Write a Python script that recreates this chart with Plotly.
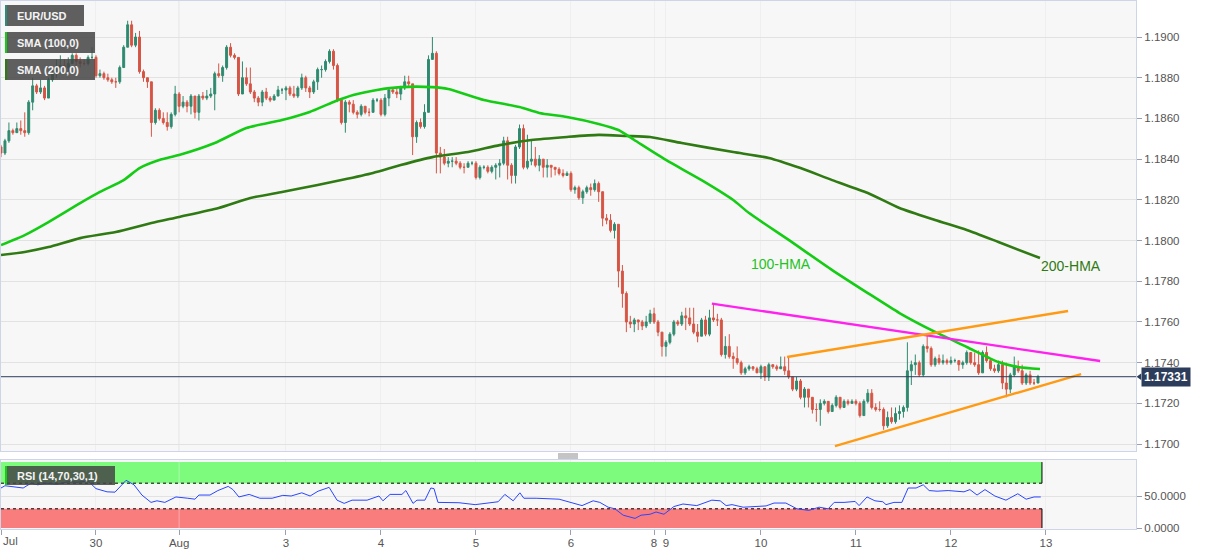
import numpy as np
import pandas as pd
import plotly.graph_objects as go

# ---------------- data (EUR/USD hourly) ----------------
sessions = [("2021-07-29 00:00", "2021-07-30 20:00"),
            ("2021-08-01 21:00", "2021-08-06 20:00"),
            ("2021-08-08 21:00", "2021-08-12 22:00")]

first_open = 1.1846
close = [
    1.1843, 1.1849, 1.1854, 1.1853, 1.1855, 1.1854, 1.1853, 1.1868, 1.1876, 1.1873,
    1.1875, 1.1870, 1.1879, 1.1882, 1.1884, 1.1886, 1.1885, 1.1887, 1.1891, 1.1888,
    1.1887, 1.1887, 1.1890, 1.1890, 1.1881, 1.1882, 1.1880, 1.1879, 1.1878, 1.1878,
    1.1885, 1.1895, 1.1906, 1.1896, 1.1900, 1.1883, 1.1880, 1.1878, 1.1858, 1.1864,
    1.1860, 1.1858, 1.1856, 1.1862, 1.1872,
    1.1866, 1.1868, 1.1866, 1.1871, 1.1863, 1.1871, 1.1870, 1.1871, 1.1872, 1.1882,
    1.1881, 1.1885, 1.1895, 1.1891, 1.1890, 1.1872, 1.1880, 1.1877, 1.1873, 1.1870,
    1.1868, 1.1873, 1.1870, 1.1869, 1.1871, 1.1874, 1.1874, 1.1875, 1.1872, 1.1871,
    1.1875, 1.1880, 1.1875, 1.1873, 1.1878, 1.1884, 1.1884, 1.1888, 1.1893, 1.1886,
    1.1869, 1.1858, 1.1868, 1.1867, 1.1863, 1.1862, 1.1866, 1.1863, 1.1863, 1.1869,
    1.1869, 1.1862, 1.1870, 1.1874, 1.1873, 1.1872, 1.1875, 1.1878, 1.1877, 1.1851,
    1.1858, 1.1856, 1.1863, 1.1889, 1.1892, 1.1843, 1.1841,
    1.1838, 1.1839, 1.1839, 1.1838, 1.1836, 1.1836, 1.1838, 1.1838, 1.1831, 1.1836,
    1.1836, 1.1834, 1.1836, 1.1837, 1.1838, 1.1849, 1.1837, 1.1832, 1.1846, 1.1855,
    1.1836, 1.1839, 1.1840, 1.1837, 1.1840, 1.1836, 1.1837, 1.1836, 1.1835, 1.1833,
    1.1832, 1.1833, 1.1825, 1.1826, 1.1821, 1.1824, 1.1826, 1.1825, 1.1828, 1.1824,
    1.1811, 1.1810, 1.1805, 1.1808, 1.1785, 1.1774, 1.1760, 1.1759, 1.1761, 1.1760,
    1.1758, 1.1760, 1.1764, 1.1760, 1.1755, 1.1748, 1.1750, 1.1754, 1.1760, 1.1759,
    1.1763, 1.1762, 1.1759, 1.1755, 1.1753, 1.1761, 1.1754, 1.1762, 1.1761, 1.1761,
    1.1744, 1.1748, 1.1743, 1.1742, 1.1740, 1.1735, 1.1737, 1.1738, 1.1737, 1.1735,
    1.1738, 1.1733, 1.1739, 1.1738, 1.1737, 1.1738, 1.1736, 1.1733, 1.1727, 1.1731,
    1.1723, 1.1727, 1.1723, 1.1717, 1.1717, 1.1720, 1.1721, 1.1716, 1.1719, 1.1723,
    1.1718, 1.1721, 1.1720, 1.1721, 1.1720, 1.1714, 1.1721, 1.1725, 1.1718, 1.1717,
    1.1717, 1.1709, 1.1713, 1.1711, 1.1715, 1.1716, 1.1718, 1.1736, 1.1739, 1.1740,
    1.1734, 1.1748, 1.1747, 1.1739, 1.1742, 1.1740, 1.1741, 1.1740, 1.1741, 1.1741,
    1.1739, 1.1740, 1.1745, 1.1740, 1.1739, 1.1735, 1.1745, 1.1741, 1.1737, 1.1736,
    1.1739, 1.1730, 1.1727, 1.1734, 1.1738, 1.1736, 1.1730, 1.1734, 1.1730, 1.1730, 1.17331]

high = [
    1.1847, 1.1850, 1.1858, 1.1855, 1.1858, 1.1859, 1.1863, 1.1869, 1.1880, 1.1877,
    1.1879, 1.1876, 1.1880, 1.1884, 1.1889, 1.1891, 1.1889, 1.1890, 1.1892, 1.1892,
    1.1890, 1.1889, 1.1891, 1.1895, 1.1891, 1.1884, 1.1883, 1.1882, 1.1880, 1.1880,
    1.1886, 1.1896, 1.1908, 1.1908, 1.1902, 1.1903, 1.1884, 1.1880, 1.1878, 1.1865,
    1.1865, 1.1863, 1.1863, 1.1863, 1.1876,
    1.1873, 1.1871, 1.1869, 1.1872, 1.1870, 1.1872, 1.1873, 1.1874, 1.1875, 1.1883,
    1.1887, 1.1886, 1.1896, 1.1897, 1.1892, 1.1890, 1.1888, 1.1885, 1.1885, 1.1874,
    1.1871, 1.1874, 1.1875, 1.1871, 1.1872, 1.1876, 1.1875, 1.1876, 1.1876, 1.1876,
    1.1876, 1.1882, 1.1881, 1.1876, 1.1879, 1.1885, 1.1886, 1.1889, 1.1894, 1.1894,
    1.1887, 1.1870, 1.1869, 1.1869, 1.1869, 1.1864, 1.1867, 1.1866, 1.1865, 1.1870,
    1.1870, 1.1870, 1.1872, 1.1875, 1.1875, 1.1875, 1.1876, 1.1881, 1.1881, 1.1877,
    1.1859, 1.1860, 1.1867, 1.1891, 1.1900, 1.1893, 1.1846,
    1.1845, 1.1841, 1.1841, 1.1841, 1.1839, 1.1838, 1.1839, 1.1839, 1.1839, 1.1837,
    1.1837, 1.1837, 1.1837, 1.1838, 1.1840, 1.1851, 1.1851, 1.1838, 1.1847, 1.1857,
    1.1857, 1.1852, 1.1849, 1.1846, 1.1842, 1.1840, 1.1840, 1.1837, 1.1836, 1.1836,
    1.1835, 1.1834, 1.1834, 1.1827, 1.1827, 1.1825, 1.1827, 1.1828, 1.1830, 1.1829,
    1.1824, 1.1813, 1.1813, 1.1809, 1.1808, 1.1788, 1.1775, 1.1763, 1.1762, 1.1761,
    1.1761, 1.1763, 1.1766, 1.1767, 1.1761, 1.1755, 1.1751, 1.1755, 1.1761, 1.1761,
    1.1765, 1.1767, 1.1767, 1.1767, 1.1759, 1.1762, 1.1763, 1.1766, 1.1769, 1.1764,
    1.1762, 1.1753, 1.1754, 1.1745, 1.1748, 1.1741, 1.1738, 1.1739, 1.1738, 1.1738,
    1.1739, 1.1738, 1.1740, 1.1739, 1.1739, 1.1743, 1.1743, 1.1743, 1.1733, 1.1733,
    1.1732, 1.1728, 1.1727, 1.1723, 1.1720, 1.1722, 1.1722, 1.1721, 1.1720, 1.1724,
    1.1723, 1.1722, 1.1722, 1.1722, 1.1722, 1.1721, 1.1722, 1.1727, 1.1727, 1.1720,
    1.1721, 1.1718, 1.1716, 1.1718, 1.1718, 1.1719, 1.1719, 1.1750, 1.1741, 1.1744,
    1.1741, 1.1749, 1.1754, 1.1748, 1.1743, 1.1744, 1.1744, 1.1742, 1.1743, 1.1742,
    1.1741, 1.1741, 1.1746, 1.1745, 1.1745, 1.1746, 1.1746, 1.1748, 1.1742, 1.1739,
    1.1741, 1.1741, 1.1740, 1.1735, 1.1743, 1.1741, 1.1739, 1.1735, 1.1736, 1.1732, 1.1734]

low = [
    1.1841, 1.1842, 1.1848, 1.1852, 1.1853, 1.1852, 1.1851, 1.1852, 1.1864, 1.1872,
    1.1872, 1.1869, 1.1870, 1.1878, 1.1880, 1.1882, 1.1882, 1.1883, 1.1887, 1.1886,
    1.1885, 1.1886, 1.1886, 1.1889, 1.1880, 1.1880, 1.1879, 1.1878, 1.1877, 1.1875,
    1.1877, 1.1885, 1.1895, 1.1895, 1.1895, 1.1882, 1.1878, 1.1875, 1.1851, 1.1857,
    1.1859, 1.1857, 1.1854, 1.1855, 1.1861,
    1.1863, 1.1865, 1.1863, 1.1862, 1.1860, 1.1859, 1.1869, 1.1869, 1.1870, 1.1864,
    1.1880, 1.1878, 1.1884, 1.1890, 1.1889, 1.1871, 1.1872, 1.1876, 1.1872, 1.1868,
    1.1866, 1.1866, 1.1869, 1.1868, 1.1869, 1.1871, 1.1872, 1.1869, 1.1871, 1.1870,
    1.1870, 1.1874, 1.1873, 1.1870, 1.1872, 1.1874, 1.1880, 1.1883, 1.1887, 1.1884,
    1.1868, 1.1857, 1.1853, 1.1863, 1.1862, 1.1860, 1.1861, 1.1862, 1.1861, 1.1863,
    1.1868, 1.1861, 1.1861, 1.1866, 1.1872, 1.1870, 1.1869, 1.1874, 1.1875, 1.1842,
    1.1848, 1.1855, 1.1855, 1.1863, 1.1889, 1.1833, 1.1833,
    1.1837, 1.1836, 1.1836, 1.1837, 1.1835, 1.1833, 1.1836, 1.1837, 1.1830, 1.1830,
    1.1835, 1.1833, 1.1833, 1.1830, 1.1831, 1.1837, 1.1830, 1.1828, 1.1828, 1.1845,
    1.1835, 1.1835, 1.1837, 1.1836, 1.1834, 1.1831, 1.1831, 1.1831, 1.1832, 1.1832,
    1.1831, 1.1832, 1.1824, 1.1823, 1.1820, 1.1818, 1.1823, 1.1822, 1.1824, 1.1819,
    1.1807, 1.1808, 1.1804, 1.1801, 1.1777, 1.1767, 1.1755, 1.1757, 1.1755, 1.1756,
    1.1756, 1.1757, 1.1759, 1.1759, 1.1753, 1.1743, 1.1743, 1.1749, 1.1753, 1.1758,
    1.1758, 1.1756, 1.1758, 1.1754, 1.1750, 1.1753, 1.1753, 1.1753, 1.1760, 1.1758,
    1.1743, 1.1742, 1.1742, 1.1737, 1.1739, 1.1734, 1.1734, 1.1736, 1.1736, 1.1735,
    1.1732, 1.1731, 1.1731, 1.1737, 1.1736, 1.1737, 1.1734, 1.1732, 1.1726, 1.1726,
    1.1722, 1.1718, 1.1718, 1.1715, 1.1711, 1.1709, 1.1719, 1.1715, 1.1716, 1.1718,
    1.1717, 1.1718, 1.1719, 1.1720, 1.1719, 1.1713, 1.1714, 1.1720, 1.1717, 1.1716,
    1.1716, 1.1707, 1.1708, 1.1710, 1.1710, 1.1712, 1.1713, 1.1716, 1.1729, 1.1734,
    1.1733, 1.1733, 1.1745, 1.1738, 1.1738, 1.1739, 1.1739, 1.1739, 1.1739, 1.1740,
    1.1736, 1.1737, 1.1739, 1.1739, 1.1738, 1.1734, 1.1735, 1.1740, 1.1736, 1.1735,
    1.1735, 1.1727, 1.1723, 1.1725, 1.1733, 1.1735, 1.1729, 1.1729, 1.1729, 1.1729, 1.1730]

# moving averages, sampled along the candle sequence (candle number, value)
sma100_at = [0, 6, 12, 20, 25, 31, 35, 40, 45, 54, 62, 71, 78, 84, 89, 95, 101, 109, 113,
             122, 131, 136, 143, 151, 156, 160, 168, 177, 185, 189, 199, 210, 219, 227,
             236, 244, 252, 257, 262.5]
sma100_val = [1.17978, 1.18027, 1.18091, 1.18184, 1.18239, 1.18297, 1.18356, 1.18396,
              1.18420, 1.18479, 1.18553, 1.18592, 1.18632, 1.18681, 1.18715, 1.18740,
              1.18754, 1.18754, 1.18745, 1.18691, 1.18656, 1.18627, 1.18607, 1.18573,
              1.18543, 1.18494, 1.18396, 1.18297, 1.18199, 1.18135, 1.18003, 1.17855,
              1.17742, 1.17644, 1.17551, 1.17477, 1.17403, 1.17379, 1.17369]
sma200_at = [0, 6, 12, 20, 29, 38, 45, 55, 63, 71, 80, 86, 94, 101, 109, 118, 126, 134,
             143, 151, 158, 164, 172, 185, 194, 202, 210, 219, 227, 236, 244, 252, 262.5]
sma200_val = [1.17929, 1.17944, 1.17968, 1.18012, 1.18042, 1.18086, 1.18116, 1.18160,
              1.18209, 1.18239, 1.18273, 1.18297, 1.18332, 1.18371, 1.18410, 1.18435,
              1.18469, 1.18494, 1.18509, 1.18519, 1.18514, 1.18509, 1.18479, 1.18435,
              1.18406, 1.18356, 1.18297, 1.18234, 1.18160, 1.18101, 1.18052, 1.17993,
              1.17914]

# RSI(14) sampled along the candle sequence
rsi_at = [0, 1, 5.6, 7.6, 9.3, 11.4, 14.1, 17.2, 19.2, 22, 24, 26.8, 28.8, 31.6, 33.6,
          35.6, 37.9, 39.4, 41.4, 44.2, 47.2, 49, 50, 52.8, 54.8, 57.4, 58.6, 60.1, 62.7,
          65.4, 68.5, 71.2, 73.3, 76, 78.1, 80.1, 82.9, 84.9, 86.7, 88.7, 92.5, 95.5,
          96.5, 98.3, 101.3, 102.3, 104.1, 105.1, 107.1, 108.6, 109.4, 110.4, 115.7,
          119.8, 125.6, 127.3, 129.4, 131.1, 132.1, 135.2, 141, 143.8, 146.8, 149.6,
          151.3, 153.4, 155.1, 157.2, 160.2, 161.7, 164, 165.5, 167.5, 170, 172.3,
          175.8, 177.9, 179.6, 181.7, 183.2, 184.7, 187.5, 190.5, 193.3, 195.3, 198.3,
          201.1, 204.1, 206.7, 209, 210.5, 213, 215.8, 216.8, 218.8, 220.8, 222.8,
          223.6, 225.6, 227.6, 229.2, 231.2, 233, 234.5, 236.5, 239.3, 243.3, 244.8,
          246.6, 248.6, 251.1, 253.9, 256.9, 259, 261, 262.7]
rsi_val = [62.5, 66, 62.5, 70, 67.5, 70, 68.5, 72.5, 71.5, 73.5, 61.5, 56.5, 56, 74.5,
           67.5, 51.5, 40, 42.5, 40, 48.5, 46.5, 45, 51.5, 51.5, 58.5, 65, 60, 48.5,
           52.5, 46.5, 46.5, 51, 50, 55, 50, 57.5, 63.5, 43.5, 38.5, 43.5, 43.5, 50,
           42.5, 52.5, 52.5, 58.5, 38.5, 43.5, 43.5, 62.5, 61.5, 40, 39.5, 36.5, 41,
           52.5, 42.5, 55, 46.5, 46.5, 45, 40, 35, 42.5, 40, 32.5, 30, 20, 15, 20,
           21.5, 25, 21.5, 33.5, 37.5, 35, 40, 43.5, 42.5, 35, 36.5, 32.5, 33.5, 34.5,
           39, 39, 30, 27.5, 32.5, 30, 40, 40, 41.5, 35, 48.5, 42.5, 41, 36.5, 40, 40,
           62.5, 62.5, 67.5, 58.5, 57.5, 58.5, 56.5, 60, 51.5, 60, 50, 43.5, 53.5, 45,
           48.5, 48.5]
rsi_upper, rsi_lower = 70, 30

# hand-drawn trend lines (candle number, price)
resistance_at, resistance_val = [179.6, 277.7], [1.17690, 1.17408]
channel_top_at, channel_top_val = [198.6, 269.6], [1.17428, 1.17654]
channel_bot_at, channel_bot_val = [210.7, 272.9], [1.16990, 1.17344]

tick_dates = ["2021-07-29", "2021-07-30", "2021-08-01", "2021-08-03", "2021-08-04",
              "2021-08-05", "2021-08-06", "2021-08-08", "2021-08-09", "2021-08-10",
              "2021-08-11", "2021-08-12", "2021-08-13"]
tick_text = ["Jul", "30", "Aug", "3", "4", "5", "6", "8", "9", "10", "11", "12", "13"]
price_ticks = [1.1700, 1.1720, 1.1740, 1.1760, 1.1780, 1.1800, 1.1820, 1.1840, 1.1860,
               1.1880, 1.1900]

# ---------------- build ----------------
times = pd.DatetimeIndex(np.concatenate(
    [pd.date_range(a, b, freq="h").values for a, b in sessions]))
n = len(close)
pos = np.arange(n)
open_ = [first_open] + close[:-1]


def pos_of(d):
    d = pd.Timestamp(d)
    i = int(times.searchsorted(d))
    if i < n:
        return i
    return n - 1 + (d - times[-1]) / pd.Timedelta(hours=1)


tick_pos = [pos_of(d) for d in tick_dates]
aug_pos = tick_pos[tick_text.index("Aug")]

UP = "#2f8a6f"
DN = "#d65545"
G100 = "#14cc14"
G200 = "#2f7a12"
BORDER = "#cfd5e8"
FONT = "Liberation Sans, Arial, sans-serif"

X_MAX = 286.76
fig = go.Figure()
fig.add_trace(go.Candlestick(
    x=pos, open=open_, high=high, low=low, close=close,
    increasing=dict(line=dict(color=UP, width=1), fillcolor=UP),
    decreasing=dict(line=dict(color=DN, width=1), fillcolor=DN),
    whiskerwidth=0, showlegend=False, hoverinfo="skip", xaxis="x", yaxis="y"))
fig.add_trace(go.Scatter(x=sma200_at, y=sma200_val, mode="lines",
                         line=dict(color=G200, width=2.6, shape="spline", smoothing=0.6),
                         showlegend=False, hoverinfo="skip"))
fig.add_trace(go.Scatter(x=sma100_at, y=sma100_val, mode="lines",
                         line=dict(color=G100, width=2.6, shape="spline", smoothing=0.6),
                         showlegend=False, hoverinfo="skip"))
fig.add_trace(go.Scatter(x=resistance_at, y=resistance_val, mode="lines",
                         line=dict(color="#ff22ee", width=2.4), showlegend=False, hoverinfo="skip"))
fig.add_trace(go.Scatter(x=channel_top_at, y=channel_top_val, mode="lines",
                         line=dict(color="#ff9a14", width=2.4), showlegend=False, hoverinfo="skip"))
fig.add_trace(go.Scatter(x=channel_bot_at, y=channel_bot_val, mode="lines",
                         line=dict(color="#ff9a14", width=2.4), showlegend=False, hoverinfo="skip"))
fig.add_trace(go.Scatter(x=rsi_at, y=rsi_val, mode="lines", xaxis="x2", yaxis="y2",
                         line=dict(color="#2a45ff", width=1), showlegend=False, hoverinfo="skip"))

shapes = []
# RSI bands (above grid, below the RSI line)
band_end = n
shapes += [
    dict(type="rect", xref="x2", yref="y2", x0=0, x1=band_end, y0=rsi_upper, y1=103,
         fillcolor="#7dfb7d", line=dict(width=0), layer="between"),
    dict(type="rect", xref="x2", yref="y2", x0=0, x1=band_end, y0=0, y1=rsi_lower,
         fillcolor="#fa7d7d", line=dict(width=0), layer="between"),
    dict(type="line", xref="x2", yref="y2", x0=aug_pos, x1=aug_pos, y0=-2, y1=110,
         line=dict(color="rgba(255,255,255,0.35)", width=1), layer="between"),
    dict(type="line", xref="x2", yref="y2", x0=0, x1=band_end, y0=rsi_upper, y1=rsi_upper,
         line=dict(color="#000", width=1, dash="dot"), layer="between"),
    dict(type="line", xref="x2", yref="y2", x0=0, x1=band_end, y0=rsi_lower, y1=rsi_lower,
         line=dict(color="#000", width=1, dash="dot"), layer="between"),
    dict(type="line", xref="x2", yref="y2", x0=band_end, x1=band_end, y0=rsi_upper, y1=103,
         line=dict(color="#000", width=1), layer="between"),
    dict(type="line", xref="x2", yref="y2", x0=band_end, x1=band_end, y0=0, y1=rsi_lower,
         line=dict(color="#000", width=1), layer="between"),
]
# month separator
shapes += [
    dict(type="line", xref="x", yref="y domain", x0=aug_pos, x1=aug_pos, y0=0, y1=1,
         line=dict(color="#dedede", width=1), layer="below"),
]
# last price line
last = close[-1]
shapes.append(dict(type="line", xref="paper", yref="y", x0=0, x1=1, y0=last, y1=last,
                   line=dict(color="#2c3d5c", width=1)))
shapes.append(dict(type="path", xref="paper", yref="y",
                   path=f"M 1.0005,{last} L 1.0045,{last + 0.00016} L 1.0045,{last - 0.00016} Z",
                   fillcolor="#2c3d5c", line=dict(width=0)))


# legend boxes (pixel -> paper helper)
def px(x):
    return (x - 1) / 1135


def py(y):
    return (529 - y) / 528


boxes = [("EUR/USD", 5, 84, 5, 26, "#2f8a7a"),
         ("SMA (100,0)", 5, 95, 32, 53, G100),
         ("SMA (200,0)", 5, 95, 59, 80, G200),
         ("RSI (14,70,30,1)", 5, 115, 466, 485, G100)]
annotations = []
for txt, x0, x1, y0, y1, acc in boxes:
    shapes.append(dict(type="rect", xref="paper", yref="paper", x0=px(x0), x1=px(x1),
                       y0=py(y1), y1=py(y0), fillcolor="rgba(70,70,70,0.86)",
                       line=dict(width=0), layer="above"))
    shapes.append(dict(type="rect", xref="paper", yref="paper", x0=px(x0), x1=px(x0 + 2),
                       y0=py(y1), y1=py(y0), fillcolor=acc, line=dict(width=0), layer="above"))
    annotations.append(dict(xref="paper", yref="paper", x=px(x0 + 10), y=py((y0 + y1) / 2),
                            xanchor="left", yanchor="middle", showarrow=False,
                            text=f"<b>{txt}</b>",
                            font=dict(family=FONT, size=11, color="#f4f4f4")))

# drag handle between panes
for yy in (454, 456, 458):
    shapes.append(dict(type="line", xref="paper", yref="paper", x0=px(558), x1=px(578),
                       y0=py(yy), y1=py(yy), line=dict(color="#8a8a8a", width=1)))

annotations += [
    dict(xref="x", yref="y", x=197, y=1.17885, text="100-HMA", showarrow=False,
         font=dict(family=FONT, size=14, color="#22c322")),
    dict(xref="x", yref="y", x=270.3, y=1.17875, text="200-HMA", showarrow=False,
         font=dict(family=FONT, size=14, color=G200)),
    dict(xref="paper", yref="y", x=1.0045, y=last, xanchor="left", yanchor="middle",
         text=f"<b>{last:.5f}</b>", showarrow=False, bgcolor="#2c3d5c", borderpad=2,
         font=dict(family=FONT, size=12, color="white")),
    dict(xref="x2", yref="paper", x=tick_pos[0], y=0, xanchor="left", yanchor="top",
         yshift=-4, text=tick_text[0], showarrow=False,
         font=dict(family=FONT, size=11.5, color="#555")),
]

axis_font = dict(family=FONT, size=11.5, color="#555")
fig.update_layout(
    width=1207, height=555, margin=dict(l=1, r=71, t=1, b=26),
    paper_bgcolor="white", plot_bgcolor="#f7f7f7", showlegend=False,
    xaxis=dict(domain=[0, 1], range=[0, X_MAX], anchor="y", showticklabels=False,
               tickvals=tick_pos, ticks="", showgrid=True, gridcolor="#efefef",
               showline=True, linecolor=BORDER, mirror=True, zeroline=False,
               rangeslider=dict(visible=False), fixedrange=True),
    yaxis=dict(domain=[(529 - 451) / 528, 1], range=[1.16966, 1.19177], side="right",
               tickvals=price_ticks, tickformat=".4f", ticks="outside", ticklen=5,
               tickcolor="#9aa0b0", tickfont=axis_font, gridcolor="#e2e2e2",
               showline=True, linecolor=BORDER, mirror=True, zeroline=False),
    xaxis2=dict(domain=[0, 1], range=[0, X_MAX], anchor="y2", matches="x",
                tickvals=tick_pos, ticktext=[""] + tick_text[1:], ticks="outside",
                ticklen=5, tickcolor="#9aa0b0", tickfont=axis_font, showgrid=True,
                gridcolor="#efefef", showline=True, linecolor=BORDER, mirror=True,
                zeroline=False, ticklabelstandoff=-2),
    yaxis2=dict(domain=[0, (529 - 460) / 528], range=[-1.56, 106.25], side="right",
                tickvals=[0, 50], ticktext=["0.0000", "50.0000"], ticks="outside",
                ticklen=5, tickcolor="#9aa0b0", tickfont=axis_font, gridcolor="#e2e2e2",
                showline=True, linecolor=BORDER, mirror=True, zeroline=False),
    shapes=shapes, annotations=annotations,
)

fig.write_html("out.html", config={"displayModeBar": False},
               post_script="document.body.style.margin='0';document.body.style.padding='0';")
